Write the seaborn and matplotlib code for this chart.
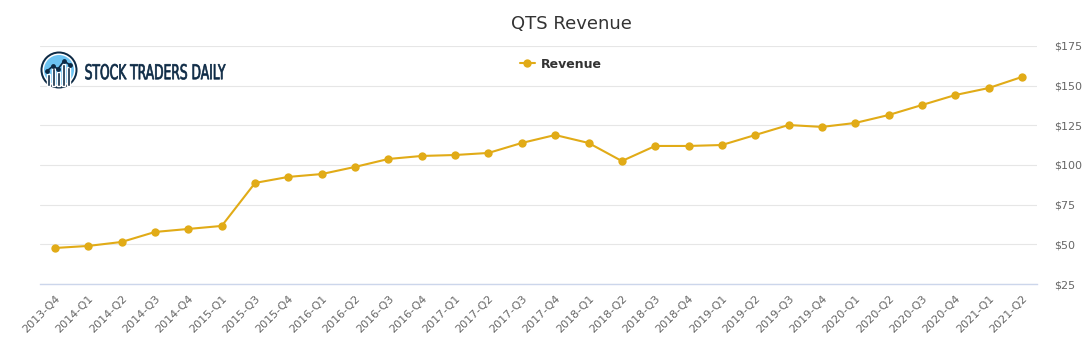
import pandas as pd
import matplotlib.pyplot as plt
import seaborn as sns
from matplotlib.patches import Circle, Rectangle, PathPatch
from matplotlib.textpath import TextPath
from matplotlib.font_manager import FontProperties
from matplotlib.transforms import Affine2D

# quarterly revenue, $ millions
quarters = ['2013-Q4', '2014-Q1', '2014-Q2', '2014-Q3', '2014-Q4', '2015-Q1',
            '2015-Q3', '2015-Q4', '2016-Q1', '2016-Q2', '2016-Q3', '2016-Q4',
            '2017-Q1', '2017-Q2', '2017-Q3', '2017-Q4', '2018-Q1', '2018-Q2',
            '2018-Q3', '2018-Q4', '2019-Q1', '2019-Q2', '2019-Q3', '2019-Q4',
            '2020-Q1', '2020-Q2', '2020-Q3', '2020-Q4', '2021-Q1', '2021-Q2']
revenue = [47.7, 49.0, 51.5, 57.8, 59.7, 61.6,
           88.7, 92.5, 94.3, 98.8, 103.8, 105.7,
           106.3, 107.6, 113.9, 118.9, 113.9, 102.5,
           112.0, 112.0, 112.6, 118.9, 125.2, 124.0,
           126.5, 131.5, 137.8, 144.1, 148.5, 155.5]
yticks = [25, 50, 75, 100, 125, 150, 175]

df = pd.DataFrame({'quarter': quarters, 'revenue': revenue})
df['pos'] = range(len(df))

sns.set_style('white')
plt.rcParams['font.family'] = ['DejaVu Sans']

fig = plt.figure(figsize=(10.91, 3.5), dpi=100)
ax = fig.add_axes([40 / 1091, 1 - 284 / 350, (1037 - 40) / 1091, (284 - 46) / 350])

gold = '#e1ab17'
sns.lineplot(data=df, x='pos', y='revenue', ax=ax, color=gold, linewidth=1.5,
             marker='o', markersize=6, markeredgewidth=0, label='Revenue')

ax.set_xlim(-0.45, len(df) - 0.55)
ax.set_ylim(25, 175)
ax.set_yticks(yticks)
ax.set_yticklabels([f'${v}' for v in yticks])
ax.yaxis.tick_right()
ax.set_xticks(df['pos'])
ax.set_xticklabels(df['quarter'], rotation=45, ha='right', rotation_mode='anchor')
ax.tick_params(axis='x', labelsize=8, colors='#666666', length=0, pad=7)
ax.tick_params(axis='y', labelsize=8, colors='#666666', length=0, pad=12)
ax.grid(axis='y', color='#e6e6e6', linewidth=0.8)
ax.set_axisbelow(True)
for s in ['top', 'left', 'right']:
    ax.spines[s].set_visible(False)
ax.spines['bottom'].set_color('#ccd6eb')
ax.spines['bottom'].set_linewidth(1)
ax.set_xlabel('')
ax.set_ylabel('')

leg = ax.legend(loc='center', bbox_to_anchor=(561 / 1091, 1 - 64 / 350),
                bbox_transform=fig.transFigure, frameon=False, handlelength=1.2,
                handletextpad=0.5, prop={'weight': 'bold', 'size': 9})
for t in leg.get_texts():
    t.set_color('#333333')

fig.text(571 / 1091, 1 - 24 / 350, 'QTS Revenue', ha='center', va='center',
         fontsize=13, color='#333333')

# logo
lax = fig.add_axes([0, 0, 1, 1], facecolor='none')
lax.set_xlim(0, 1091)
lax.set_ylim(350, 0)
lax.axis('off')
navy = '#0d2a45'
lax.add_patch(Circle((59, 70), 18.5, facecolor=navy, edgecolor='none'))
lax.add_patch(Circle((59, 70), 16.5, facecolor='white', edgecolor='none'))
lax.add_patch(Circle((59, 70), 15, facecolor='#6cc3f2', edgecolor='none'))
for bx, top in [(46.5, 74), (51.5, 68), (56.5, 72), (61.5, 64), (66.5, 67)]:
    lax.add_patch(Rectangle((bx, top), 3.5, 85.5 - top, facecolor=navy))
lax.plot([47, 53, 58, 64, 70], [71, 66, 69, 61, 65], color=navy, lw=1.2)
lax.scatter([47, 53, 58, 64, 70], [71, 66, 69, 61, 65], s=6, color=navy)

# condensed wordmark, squeezed horizontally
tp = TextPath((0, 0), 'STOCK TRADERS DAILY', size=20,
              prop=FontProperties(family='DejaVu Sans'))
bb = tp.get_extents()
sx = 140 / bb.width
sy = 15.5 / bb.height
tr = Affine2D().translate(-bb.x0, -bb.y0).scale(sx, -sy).translate(85.5, 79.5)
lax.add_patch(PathPatch(tr.transform_path(tp), facecolor=navy, edgecolor=navy,
                        linewidth=0.5))

fig.savefig('out.png', dpi=100)
